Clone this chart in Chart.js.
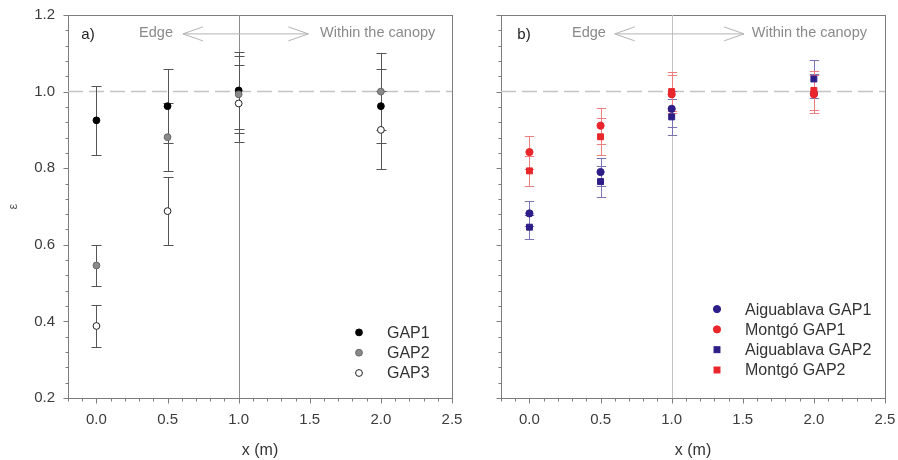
<!DOCTYPE html>
<html>
<head>
<meta charset="utf-8">
<script src="https://cdn.jsdelivr.net/npm/chart.js@4.4.1/dist/chart.umd.min.js"></script>
<style>
  html, body { margin: 0; padding: 0; background: #fff; }
  #wrap { position: relative; width: 898px; height: 460px; overflow: hidden; }
  #cL { position: absolute; left: 0; top: 0; }
  #cR { position: absolute; left: 470px; top: 0; }
</style>
</head>
<body>
<div id="wrap">
  <canvas id="cL" width="470" height="460"></canvas>
  <canvas id="cR" width="428" height="460"></canvas>
</div>
<script>
// ---- data ----
const xPositions = [0, 0.5, 1.0, 2.0];
const xTicks = [0, 0.5, 1.0, 1.5, 2.0, 2.5];
const yTicks = [0.2, 0.4, 0.6, 0.8, 1.0, 1.2];

// panel a) – emissivity ratio per gap, with error half-widths
const gap1 = [0.925, 0.962, 1.003, 0.962];
const gap1Err = [0.090, 0.097, 0.100, 0.097];
const gap2 = [0.546, 0.881, 0.993, 1.000];
const gap2Err = [0.054, 0.088, 0.100, 0.100];
const gap3 = [0.388, 0.688, 0.969, 0.900];
const gap3Err = [0.055, 0.088, 0.101, 0.101];

// panel b) – per site and gap
const aigGap1 = [0.682, 0.790, 0.955, 0.995];
const aigGap1Err = [0.033, 0.036, 0.047, 0.050];
const monGap1 = [0.842, 0.911, 0.993, 0.993];
const monGap1Err = [0.043, 0.047, 0.050, 0.050];
const aigGap2 = [0.646, 0.765, 0.934, 1.033];
const aigGap2Err = [0.032, 0.040, 0.047, 0.049];
const monGap2 = [0.793, 0.882, 1.000, 1.003];
const monGap2Err = [0.040, 0.048, 0.050, 0.050];

const REF_X = 1.0;
const REF_Y = 1.0;
const X_MINOR_STEP = 0.1;
const Y_MINOR_STEP = 0.04;

// ---- styling ----
const FONT = "'Liberation Sans', Arial, sans-serif";
const NAVY = '#2d1d86';
const RED = '#e8262b';

function points(values) {
  return xPositions.map((x, i) => ({ x: x, y: values[i] }));
}

function drawMarker(ctx, ds, cx, cy) {
  ctx.save();
  ctx.fillStyle = ds.backgroundColor;
  ctx.strokeStyle = ds.borderColor;
  ctx.lineWidth = ds.borderWidth;
  if (ds.pointStyle === 'rect') {
    const h = ds.pointRadius * Math.SQRT1_2;
    ctx.fillRect(cx - h, cy - h, 2 * h, 2 * h);
    ctx.strokeRect(cx - h, cy - h, 2 * h, 2 * h);
  } else {
    ctx.beginPath();
    ctx.arc(cx, cy, ds.pointRadius, 0, Math.PI * 2);
    ctx.fill();
    ctx.stroke();
  }
  ctx.restore();
}

function doubleArrow(ctx, x1, x2, y) {
  ctx.save();
  ctx.strokeStyle = '#b4b4b4';
  ctx.lineWidth = 1;
  ctx.beginPath();
  ctx.moveTo(x1, y); ctx.lineTo(x2, y);
  ctx.moveTo(x1 + 20, y - 7); ctx.lineTo(x1, y); ctx.lineTo(x1 + 20, y + 7);
  ctx.moveTo(x2 - 20, y - 7); ctx.lineTo(x2, y); ctx.lineTo(x2 - 20, y + 7);
  ctx.stroke();
  ctx.restore();
}

function panelPlugin(cfg) {
  return {
    id: 'panelDecor',
    beforeDatasetsDraw(chart) {
      const { ctx, chartArea: a, scales: { x, y } } = chart;
      ctx.save();
      // frame
      ctx.strokeStyle = '#7d7d7d';
      ctx.lineWidth = 1;
      ctx.strokeRect(Math.round(a.left) + 0.5, Math.round(a.top) + 0.5,
                     Math.round(a.right - a.left), Math.round(a.bottom - a.top));
      // outward ticks on left and bottom axes
      ctx.beginPath();
      const ax = Math.round(a.left) + 0.5;
      for (let v = y.min; v <= y.max + 1e-9; v += Y_MINOR_STEP) {
        const major = yTicks.some(t => Math.abs(t - v) < 1e-6);
        const py = Math.round(y.getPixelForValue(v)) + 0.5;
        ctx.moveTo(ax, py); ctx.lineTo(ax - (major ? 5 : 3), py);
      }
      const ay = Math.round(a.bottom) + 0.5;
      const xStart = Math.ceil(x.min / X_MINOR_STEP - 1e-9) * X_MINOR_STEP;
      for (let v = xStart; v <= x.max + 1e-9; v += X_MINOR_STEP) {
        const major = xTicks.some(t => Math.abs(t - v) < 1e-6);
        const px = Math.round(x.getPixelForValue(v)) + 0.5;
        ctx.moveTo(px, ay); ctx.lineTo(px, ay + (major ? 5 : 3));
      }
      ctx.stroke();
      // reference lines
      ctx.strokeStyle = cfg.vlineColor;
      ctx.beginPath();
      const xr = Math.round(x.getPixelForValue(REF_X)) + 0.5;
      ctx.moveTo(xr, a.top); ctx.lineTo(xr, a.bottom);
      ctx.stroke();
      ctx.strokeStyle = '#c4c4c4';
      ctx.lineWidth = 1.5;
      ctx.setLineDash([15, 6]);
      ctx.beginPath();
      const yr = y.getPixelForValue(REF_Y);
      ctx.moveTo(a.left, yr); ctx.lineTo(a.right, yr);
      ctx.stroke();
      ctx.setLineDash([]);
      // error bars
      ctx.lineWidth = 1;
      chart.data.datasets.forEach((ds) => {
        ctx.strokeStyle = ds.errColor;
        ctx.beginPath();
        ds.data.forEach((p, j) => {
          const e = ds.errors[j];
          const px = Math.round(x.getPixelForValue(p.x)) + 0.5;
          const yTop = Math.round(y.getPixelForValue(p.y + e)) + 0.5;
          const yBot = Math.round(y.getPixelForValue(p.y - e)) + 0.5;
          ctx.moveTo(px, yTop); ctx.lineTo(px, yBot);
          ctx.moveTo(px - cfg.cap, yTop); ctx.lineTo(px + cfg.cap, yTop);
          ctx.moveTo(px - cfg.cap, yBot); ctx.lineTo(px + cfg.cap, yBot);
        });
        ctx.stroke();
      });
      ctx.restore();
    },
    afterDraw(chart) {
      const { ctx, chartArea: a, scales: { x, y } } = chart;
      ctx.save();
      // panel letter and edge/canopy annotation
      ctx.textBaseline = 'middle';
      ctx.fillStyle = '#222';
      ctx.font = '15px ' + FONT;
      ctx.textAlign = 'left';
      ctx.fillText(cfg.letter, x.getPixelForValue(cfg.letterX), y.getPixelForValue(1.148));
      ctx.fillStyle = '#8a8a8a';
      ctx.font = '14.5px ' + FONT;
      const ay = y.getPixelForValue(1.152);
      ctx.textAlign = 'right';
      ctx.fillText('Edge', x.getPixelForValue(cfg.edgeX), ay);
      ctx.textAlign = 'left';
      ctx.fillText('Within the canopy', x.getPixelForValue(cfg.canopyX), ay);
      doubleArrow(ctx, x.getPixelForValue(cfg.arrowFrom), x.getPixelForValue(cfg.arrowTo), ay + 0.5);
      // legend
      ctx.font = '16px ' + FONT;
      const items = cfg.legendOrder.map(i => chart.data.datasets[i]);
      const n = items.length;
      items.forEach((ds, k) => {
        const ly = a.bottom - cfg.legendBottom - (n - 1 - k) * 20.3;
        drawMarker(ctx, ds, a.right - cfg.legendMarker, ly);
        ctx.fillStyle = '#333';
        ctx.textAlign = 'left';
        ctx.fillText(ds.label, a.right - cfg.legendText, ly + 1);
      });
      ctx.restore();
    }
  };
}

function makeOptions(p) {
  return {
    responsive: false,
    devicePixelRatio: 1,
    animation: false,
    events: [],
    layout: { padding: { top: 15, right: p.padRight, left: 0, bottom: 0 } },
    plugins: { legend: { display: false }, tooltip: { enabled: false } },
    scales: {
      x: {
        type: 'linear', min: -0.2, max: 2.5,
        afterBuildTicks: s => { s.ticks = xTicks.map(v => ({ value: v })); },
        afterFit: s => { s.height = 62; s.paddingLeft = 0; s.paddingRight = 0; },
        grid: { display: false, drawTicks: false },
        border: { display: false },
        ticks: {
          padding: 13, color: '#3c3c3c', autoSkip: false, maxRotation: 0,
          font: { size: 15, family: FONT },
          callback: v => Number(v).toFixed(1)
        },
        title: { display: true, text: 'x (m)', color: '#333',
                 font: { size: 16, family: FONT }, padding: { top: 0, bottom: 0 } }
      },
      y: {
        type: 'linear', min: 0.2, max: 1.2,
        afterBuildTicks: s => { s.ticks = yTicks.map(v => ({ value: v })); },
        afterFit: s => { s.width = p.yWidth; s.paddingTop = 0; s.paddingBottom = 0; },
        grid: { display: false, drawTicks: false },
        border: { display: false },
        ticks: {
          display: p.showYLabels, padding: 13, color: '#3c3c3c',
          font: { size: 15, family: FONT },
          callback: v => Number(v).toFixed(1)
        },
        title: { display: p.showYLabels, text: 'ε', color: '#555',
                 font: { size: 13, family: FONT }, padding: { top: 6, bottom: 0 } }
      }
    }
  };
}

function series(label, values, errs, style, order) {
  return Object.assign({
    label: label,
    data: points(values),
    errors: errs,
    order: order,
    borderWidth: 1,
    pointHoverRadius: 0
  }, style);
}

// ---- panel a) ----
const leftDatasets = [
  series('GAP1', gap1, gap1Err, { pointStyle: 'circle', pointRadius: 3.4, backgroundColor: '#000', borderColor: '#000', errColor: '#555' }, 2),
  series('GAP2', gap2, gap2Err, { pointStyle: 'circle', pointRadius: 3.4, backgroundColor: '#8a8a8a', borderColor: '#666', errColor: '#555' }, 1),
  series('GAP3', gap3, gap3Err, { pointStyle: 'circle', pointRadius: 3.4, backgroundColor: '#fff', borderColor: '#222', errColor: '#555' }, 0)
];

new Chart(document.getElementById('cL'), {
  type: 'scatter',
  data: { datasets: leftDatasets },
  options: makeOptions({ padRight: 18, yWidth: 68, showYLabels: true }),
  plugins: [panelPlugin({
    vlineColor: '#8c8c8c', cap: 5,
    letter: 'a)', letterX: -0.106,
    edgeX: 0.538, arrowFrom: 0.608, arrowTo: 1.49, canopyX: 1.572,
    legendOrder: [0, 1, 2], legendBottom: 25, legendMarker: 93, legendText: 65
  })]
});

// ---- panel b) ----
const rightDatasets = [
  series('Aiguablava GAP1', aigGap1, aigGap1Err, { pointStyle: 'circle', pointRadius: 3.6, backgroundColor: NAVY, borderColor: NAVY, errColor: '#7a74b4' }, 3),
  series('Montgó GAP1', monGap1, monGap1Err, { pointStyle: 'circle', pointRadius: 3.6, backgroundColor: RED, borderColor: RED, errColor: '#ef7f7f' }, 0),
  series('Aiguablava GAP2', aigGap2, aigGap2Err, { pointStyle: 'rect', pointRadius: 4.2, backgroundColor: NAVY, borderColor: NAVY, errColor: '#7a74b4' }, 2),
  series('Montgó GAP2', monGap2, monGap2Err, { pointStyle: 'rect', pointRadius: 4.2, backgroundColor: RED, borderColor: RED, errColor: '#ef7f7f' }, 1)
];

new Chart(document.getElementById('cR'), {
  type: 'scatter',
  data: { datasets: rightDatasets },
  options: makeOptions({ padRight: 13, yWidth: 31, showYLabels: false }),
  plugins: [panelPlugin({
    vlineColor: '#c2c2c2', cap: 4.7,
    letter: 'b)', letterX: -0.085,
    edgeX: 0.537, arrowFrom: 0.60, arrowTo: 1.509, canopyX: 1.563,
    legendOrder: [0, 1, 2, 3], legendBottom: 28, legendMarker: 168, legendText: 140
  })]
});
</script>
</body>
</html>
